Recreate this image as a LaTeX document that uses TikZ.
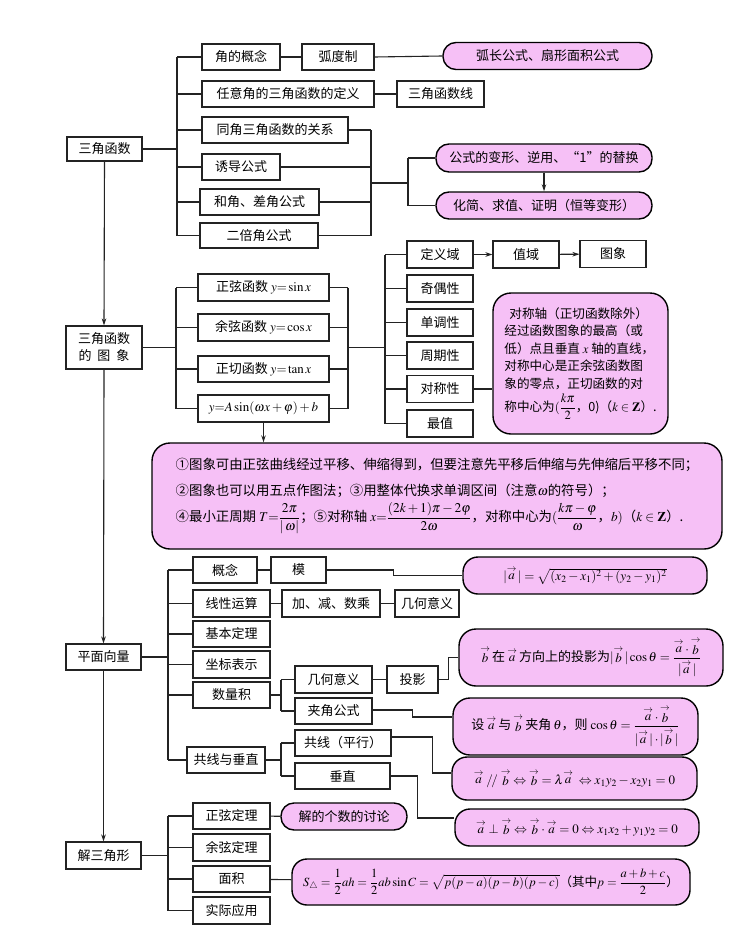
\documentclass[tikz,border=0pt]{standalone}
\usepackage{amsmath,amssymb}
\usepackage{mathptmx}
\usepackage[no-math]{fontspec}
\setmainfont{Noto Sans CJK SC}
\usetikzlibrary{arrows.meta}
\definecolor{pk}{RGB}{246,192,246}
\definecolor{ln}{RGB}{35,35,35}
\newcommand{\myvec}[1]{\mathord{\stackrel{\rightarrow}{#1}}}
\tikzset{
 bx/.style={draw=ln, line width=1.1pt, inner sep=0pt, minimum height=26pt, font=\fontsize{13}{15}\selectfont, fill=white},
 pl/.style={draw=black, line width=1.4pt, fill=pk, rounded corners=13pt, inner sep=0pt, font=\fontsize{13}{15}\selectfont},
 cn/.style={draw=ln, line width=1.1pt},
 ar/.style={cn, -{Stealth[length=7pt,width=4.5pt]}},
}
\begin{document}
\begin{tikzpicture}[x=1pt,y=-1pt]
\useasboundingbox[fill=white] (0,0) rectangle (752,942);
% ---------- section 1
\node[bx, minimum width=75pt, minimum height=24pt] (t1) at (104.5,149) {三角函数};
\node[bx, minimum width=78pt] (a1) at (241,57) {角的概念};
\node[bx, minimum width=72pt] (a2) at (338,57) {弧度制};
\node[pl, minimum width=209pt, minimum height=27pt] (p1) at (547.5,56) {弧长公式、扇形面积公式};
\node[bx, minimum width=172pt] (a3) at (288,94) {任意角的三角函数的定义};
\node[bx, minimum width=87pt] (a4) at (440.5,94) {三角函数线};
\node[bx, minimum width=146pt] (a5) at (275,130) {同角三角函数的关系};
\node[bx, minimum width=78pt] (a6) at (241,167) {诱导公式};
\node[bx, minimum width=119pt] (a7) at (259.5,202) {和角、差角公式};
\node[bx, minimum width=118pt, minimum height=25pt] (a8) at (259,235.5) {二倍角公式};
\node[pl, minimum width=216pt, minimum height=28pt] (p2) at (544,158) {公式的变形、逆用、“1”的替换};
\node[pl, minimum width=216pt, minimum height=27pt] (p3) at (544,205.5) {化简、求值、证明（恒等变形）};
\coordinate (B1) at (177,0);
\foreach \n in {a1,a3,a5,a6,a7,a8} \draw[cn] (\n.west) -- (\n.west -| B1);
\draw[cn] (a1.west -| B1) -- (a8.west -| B1);
\draw[cn] (t1.east) -- (t1.east -| B1);
\draw[cn] (a1) -- (a2);
\draw[cn] (a2.east) -- (p1.west);
\draw[cn] (a3) -- (a4);
\coordinate (B2) at (371,0);
\foreach \n in {a5,a6,a7,a8} \draw[cn] (\n.east) -- (\n.east -| B2);
\draw[cn] (a5.east -| B2) -- (a8.east -| B2);
\coordinate (B2m) at (371,183);
\coordinate (B3) at (408,0);
\draw[cn] (B2m) -- (B2m -| B3);
\draw[cn] (p2.west -| B3) -- (p3.west -| B3);
\draw[cn] (p2.west) -- (p2.west -| B3);
\draw[cn] (p3.west) -- (p3.west -| B3);
\draw[ar] (p2.south) -- (p3.north);
% ---------- section 2
\node[bx, minimum width=76pt, minimum height=43pt, align=center, font=\fontsize{13}{17}\selectfont] (t2) at (104,347.5) {三角函数\\的\hspace{0.45em}图\hspace{0.45em}象};
\draw[ar] (t1.south) -- (t2.north);
\node[bx, minimum width=131pt, minimum height=27pt] (b1) at (263.5,287.5) {正弦函数 $y{=}\sin x$};
\node[bx, minimum width=131pt, minimum height=27pt] (b2) at (263.5,327.5) {余弦函数 $y{=}\cos x$};
\node[bx, minimum width=131pt, minimum height=26pt] (b3) at (263.5,369) {正切函数 $y{=}\tan x$};
\node[bx, minimum width=131pt, minimum height=27pt] (b4) at (263.5,408.5) {$y{=}A\sin(\omega x+\varphi)+b$};
\coordinate (B4) at (176,0);
\foreach \n in {b1,b2,b3,b4} \draw[cn] (\n.west) -- (\n.west -| B4);
\draw[cn] (b1.west -| B4) -- (b4.west -| B4);
\draw[cn] (t2.east) -- (t2.east -| B4);
\coordinate (B5) at (348,0);
\foreach \n in {b1,b2,b3,b4} \draw[cn] (\n.east) -- (\n.east -| B5);
\draw[cn] (b1.east -| B5) -- (b4.east -| B5);
\coordinate (B5m) at (348,347.5);
\coordinate (B6) at (385,0);
\draw[cn] (B5m) -- (B5m -| B6);
\node[bx, minimum width=66pt, minimum height=27pt] (c1) at (440,254.5) {定义域};
\node[bx, minimum width=66pt, minimum height=27pt] (c2) at (526,254.5) {值域};
\node[bx, minimum width=66pt, minimum height=27pt] (c3) at (613,254) {图象};
\node[bx, minimum width=66pt, minimum height=27pt] (c4) at (440,288.5) {奇偶性};
\node[bx, minimum width=66pt, minimum height=27pt] (c5) at (440,322.5) {单调性};
\node[bx, minimum width=66pt, minimum height=27pt] (c6) at (440,355.5) {周期性};
\node[bx, minimum width=66pt, minimum height=27pt] (c7) at (440,389) {对称性};
\node[bx, minimum width=66pt, minimum height=27pt] (c8) at (440,423.5) {最值};
\foreach \n in {c1,c4,c5,c6,c7,c8} \draw[cn] (\n.west) -- (\n.west -| B6);
\draw[cn] (c1.west -| B6) -- (c8.west -| B6);
\draw[ar] (c1) -- (c2);
\draw[ar] (c2) -- (c3);
\node[pl, rounded corners=18pt, minimum width=175pt, minimum height=141pt, align=left, font=\fontsize{12.6}{17.6}\selectfont] (rb) at (580.5,363.5) {\hspace{0.4em}对称轴（正切函数除外）\\经过函数图象的最高（或\\低）点且垂直 $x$ 轴的直线，\\对称中心是正余弦函数图\\象的零点，正切函数的对\\[3pt]称中心为$(\dfrac{k\pi}{2}$，0)（$k\in\mathbf{Z}$）.};
\draw[cn] (c7.east) -- (rb.west |- c7.east);
\node[pl, rounded corners=18pt, minimum width=570pt, minimum height=106pt, align=left, font=\fontsize{13.4}{17}\selectfont] (bp) at (437,496) {①图象可由正弦曲线经过平移、伸缩得到，但要注意先平移后伸缩与先伸缩后平移不同；\\[9pt]②图象也可以用五点作图法；③用整体代换求单调区间（注意$\omega$的符号）；\\[4pt]④最小正周期 $T{=}\dfrac{2\pi}{|\,\omega|}$；⑤对称轴 $x{=}\dfrac{(2k+1)\pi-2\varphi}{2\omega}$，对称中心为$(\dfrac{k\pi-\varphi}{\omega}$，$b)$（$k\in\mathbf{Z}$）.};
\draw[ar] (b4.south) -- (b4.south |- bp.north);
% ---------- section 3
\node[bx, minimum width=75pt] (t3) at (103.5,657) {平面向量};
\draw[ar] (t2.south) -- (t3.north);
\node[bx, minimum width=64pt] (d1) at (225,570) {概念};
\node[bx, minimum width=55pt] (d2) at (298.5,570) {模};
\node[pl, minimum width=244pt, minimum height=37pt, rounded corners=15pt] (q1) at (585,575.5) {$|\myvec{a}\,|=\sqrt{(x_2-x_1)^2+(y_2-y_1)^2}$};
\node[bx, minimum width=77pt, minimum height=27pt] (d3) at (231.5,603.5) {线性运算};
\node[bx, minimum width=98pt, minimum height=27pt] (d4) at (331,603.5) {加、减、数乘};
\node[bx, minimum width=64pt, minimum height=27pt] (d5) at (427,603.5) {几何意义};
\node[bx, minimum width=77pt] (d6) at (231.5,634) {基本定理};
\node[bx, minimum width=77pt, minimum height=27pt] (d7) at (231.5,664.5) {坐标表示};
\node[bx, minimum width=77pt] (d8) at (231.5,695) {数量积};
\node[bx, minimum width=78pt] (d9) at (226,760) {共线与垂直};
\coordinate (B7) at (168,0);
\foreach \n in {d1,d3,d6,d7,d8,d9} \draw[cn] (\n.west) -- (\n.west -| B7);
\draw[cn] (d1.west -| B7) -- (d9.west -| B7);
\draw[cn] (t3.east) -- (t3.east -| B7);
\draw[cn] (d1) -- (d2);
\draw[cn] (d2.east) -- ++(67,0) |- (q1.west);
\draw[cn] (d3) -- (d4);
\draw[cn] (d4) -- (d5);
\node[bx, minimum width=77pt, minimum height=27pt] (e1) at (333.5,679.5) {几何意义};
\node[bx, minimum width=77pt] (e2) at (333.5,711) {夹角公式};
\node[bx, minimum width=51pt, minimum height=27pt] (e3) at (412.5,679.5) {投影};
\node[pl, minimum width=264pt, minimum height=57pt, rounded corners=17pt] (q2) at (591,657.5) {$\myvec{b}$\,在\,$\myvec{a}$\,方向上的投影为$|\myvec{b}\,|\cos\theta=\dfrac{\myvec{a}\cdot\myvec{b}}{|\myvec{a}\,|}$};
\node[pl, minimum width=245pt, minimum height=57pt, rounded corners=17pt] (q3) at (575.5,726.5) {设\,$\myvec{a}$\,与\,$\myvec{b}$\,夹角\,$\theta$，则 $\cos\theta=\dfrac{\myvec{a}\cdot\myvec{b}}{|\myvec{a}\,|\cdot|\myvec{b}\,|}$};
\coordinate (B8) at (281,0);
\draw[cn] (d8.east) -- (d8.east -| B8);
\draw[cn] (e1.west) -- (e1.west -| B8);
\draw[cn] (e2.west) -- (e2.west -| B8);
\draw[cn] (e1.west -| B8) -- (e2.west -| B8);
\draw[cn] (e1) -- (e3);
\draw[cn] (e3.east) -- ++(10,0) |- (q2.west);
\draw[cn] ([yshift=1pt]e2.east) -- ++(40,0) |- ([yshift=9.5pt]q3.west);
\node[bx, minimum width=96pt] (e4) at (343,743) {共线（平行）};
\node[bx, minimum width=95pt] (e5) at (342.5,776) {垂直};
\node[pl, minimum width=245pt, minimum height=43pt, rounded corners=15pt] (q4) at (574.5,778.5) {$\myvec{a}\;/\!/\;\myvec{b}\Leftrightarrow\myvec{b}=\lambda\myvec{a}\ \Leftrightarrow x_1y_2-x_2y_1=0$};
\node[pl, minimum width=244pt, minimum height=37pt, rounded corners=15pt] (q5) at (577,827.5) {$\myvec{a}\perp\myvec{b}\Leftrightarrow\myvec{b}\cdot\myvec{a}=0\Leftrightarrow x_1x_2+y_1y_2=0$};
\draw[cn] (d9.east) -- (d9.east -| B8);
\draw[cn] (e4.west) -- (e4.west -| B8);
\draw[cn] (e5.west) -- (e5.west -| B8);
\draw[cn] (e4.west -| B8) -- (e5.west -| B8);
\draw[cn] ([yshift=6pt]e4.east) -- ++(41,0) |- ([yshift=5.5pt]q4.west);
\draw[cn] (e5.east) -- ++(27,0) |- ([yshift=9.5pt]q5.west);
% ---------- section 4
\node[bx, minimum width=75pt, minimum height=27pt] (t4) at (103.5,855.5) {解三角形};
\draw[ar] (t3.south) -- (t4.north);
\node[bx, minimum width=77pt] (f1) at (231.5,816) {正弦定理};
\node[bx, minimum width=77pt, minimum height=27pt] (f2) at (231.5,847.5) {余弦定理};
\node[bx, minimum width=77pt] (f3) at (231.5,879) {面积};
\node[bx, minimum width=77pt, minimum height=27pt] (f4) at (231.5,910.5) {实际应用};
\coordinate (B9) at (168,0);
\foreach \n in {f1,f2,f3,f4} \draw[cn] (\n.west) -- (\n.west -| B9);
\draw[cn] (f1.west -| B9) -- (f4.west -| B9);
\draw[cn] (t4.east) -- (t4.east -| B9);
\node[pl, minimum width=126pt, minimum height=27pt] (r1) at (344,816.5) {解的个数的讨论};
\node[pl, minimum width=398pt, minimum height=46pt, rounded corners=15pt, font=\fontsize{12.5}{14}\selectfont] (r2) at (491,882) {$S_\triangle=\dfrac12ah=\dfrac12ab\sin C=\sqrt{p(p-a)(p-b)(p-c)}$（其中$p=\dfrac{a+b+c}{2}$）};
\draw[cn] (f1) -- (r1);
\draw[cn] (f3) -- (r2);
\end{tikzpicture}
\end{document}
